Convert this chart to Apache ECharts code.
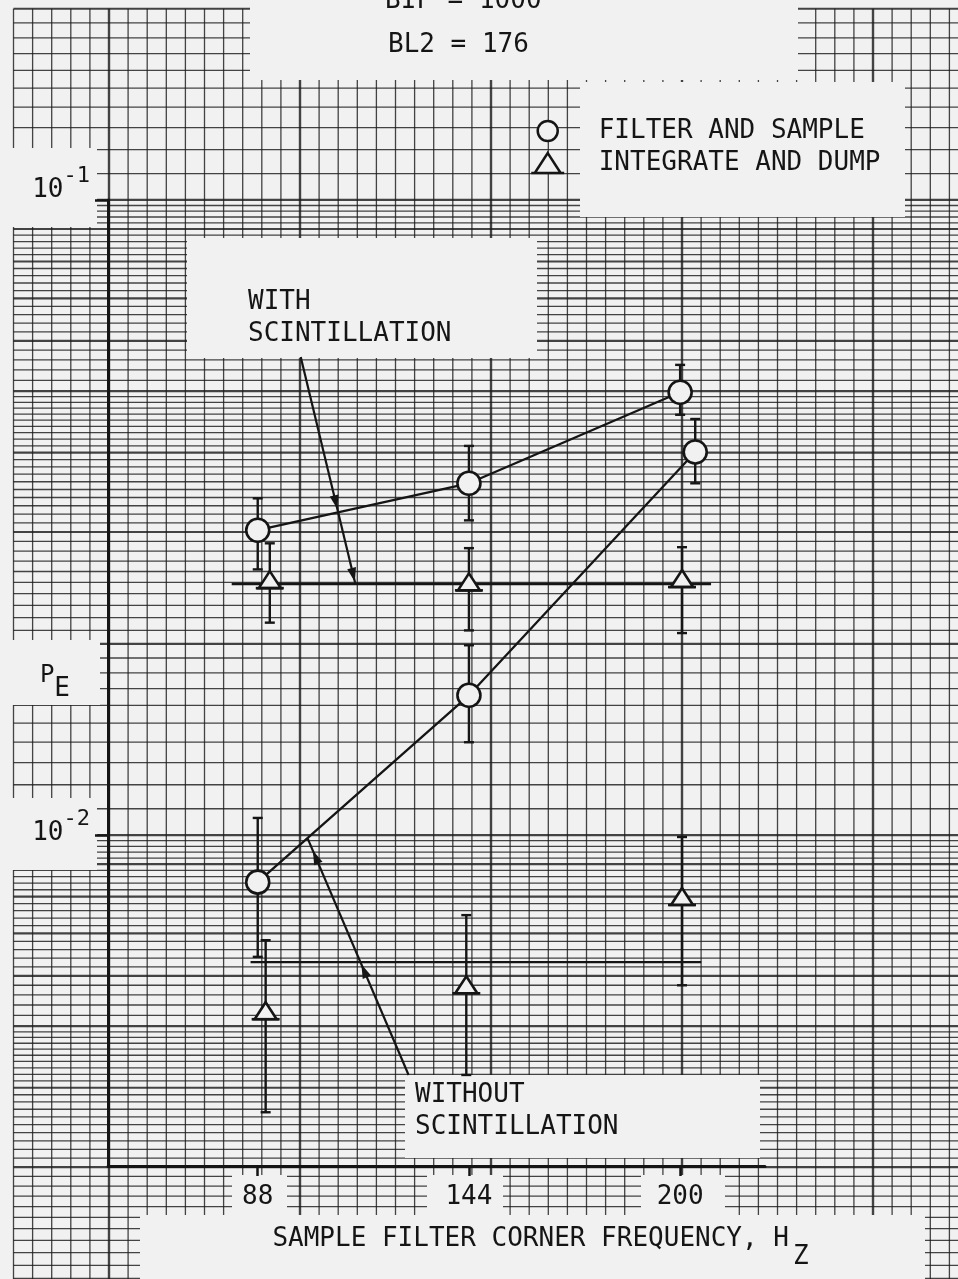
<!DOCTYPE html>
<html>
<head>
<meta charset="utf-8">
<title>Probability of error vs sample filter corner frequency</title>
<script src="https://cdn.jsdelivr.net/npm/echarts@6/dist/echarts.min.js"></script>
<style>
  html, body { margin: 0; padding: 0; background: #f1f1f1; }
  #chart { width: 958px; height: 1279px; }
</style>
</head>
<body>
<div id="chart"></div>
<script>
// ---------------- data ----------------
// Sample filter corner frequencies (Hz)
const frequencies = [88, 144, 200];
const xTickValues = [88, 144, 200];
const yTickValues = [0.01, 0.1];

// Filter and sample (circles): value, upper and lower error bounds
const fsWith        = [0.0302, 0.0358, 0.0498];
const fsWithHigh    = [0.0339, 0.0410, 0.0550];
const fsWithLow     = [0.0262, 0.0313, 0.0459];
const fsWithout     = [0.00843, 0.0166, 0.0401];
const fsWithoutHigh = [0.01064, 0.0199, 0.0452];
const fsWithoutLow  = [0.00643, 0.0140, 0.0358];

// Integrate and dump (triangles): value, upper and lower error bounds
const idWith        = [0.0252, 0.0250, 0.0253];
const idWithHigh    = [0.0288, 0.0283, 0.0284];
const idWithLow     = [0.0216, 0.0210, 0.0208];
const idWithout     = [0.00528, 0.00580, 0.00799];
const idWithoutHigh = [0.00683, 0.00748, 0.00993];
const idWithoutLow  = [0.00366, 0.00419, 0.00580];

// Integrate-and-dump reference levels and the frequency span they are ruled over
const levelWith = 0.02485;
const levelWithout = 0.00631;
const levelWithSpan = [81.1, 208.2];
const levelWithoutSpan = [86.1, 205.6];

// ---------------- styling ----------------
const PAPER = '#f1f1f1';
const INK = '#151515';
const RULE = 'rgba(28,28,28,0.82)';
const MONO = '"DejaVu Sans Mono", "Liberation Mono", monospace';
const FONT = '26px ' + MONO;

// Small sideways nudges (Hz) so symbols at the same frequency do not sit on each other
const NUDGE = {
  fsWith:    [0, 0, 0],
  fsWithout: [0, 0, 4.0],
  idWith:    [3.2, 0, 0.5],
  idWithout: [2.1, -0.7, 0.5]
};

// Graph-paper coordinate frame covering the whole page
const PAPER_X = [-15.707, 34.450];     // ruled divisions
const PAPER_Y = [0.0019995, 0.20646];  // log ruling, same scale as the plot
const PAPER_TOP = 0.2;

function paperRows() {
  const rows = [];
  [0.001, 0.01, 0.1].forEach(function (d) {
    const marks = [];
    for (let m = 10; m < 50; m += 1) marks.push(m / 10);
    for (let m = 50; m < 100; m += 2) marks.push(m / 10);
    marks.forEach(function (m) {
      const v = d * m;
      if (v >= PAPER_Y[0] * 0.999 && v <= PAPER_TOP * 1.0001) {
        rows.push([PAPER_X[0], v, Number.isInteger(m) ? 1 : 0]);
      }
    });
  });
  return rows;
}
function paperCols() {
  const cols = [];
  for (let k = -15; k <= 34; k++) cols.push([k, PAPER_TOP, k % 10 === 0 ? 1 : 0]);
  return cols;
}

function points(values, low, high, nudge, kind) {
  return frequencies.map(function (f, i) {
    return [f + nudge[i], values[i], low[i], high[i], kind];
  });
}
function pathOf(values, nudge) {
  return frequencies.map(function (f, i) { return [f + nudge[i], values[i]]; });
}

function renderRow(params, api) {
  const cs = params.coordSys;
  const p = api.coord([-15, api.value(1)]);
  const heavy = api.value(2) === 1;
  return {
    type: 'line',
    shape: { x1: p[0], y1: p[1], x2: cs.x + cs.width, y2: p[1] },
    style: { stroke: RULE, lineWidth: heavy ? 2.2 : 1.3 }
  };
}
function renderCol(params, api) {
  const cs = params.coordSys;
  const p = api.coord([api.value(0), PAPER_TOP]);
  const heavy = api.value(2) === 1;
  return {
    type: 'line',
    shape: { x1: p[0], y1: p[1], x2: p[0], y2: cs.y + cs.height },
    style: { stroke: RULE, lineWidth: heavy ? 2.4 : 1.3 }
  };
}

function renderMarker(params, api) {
  const x = api.value(0);
  const c = api.coord([x, api.value(1)]);
  const lo = api.coord([x, api.value(2)]);
  const hi = api.coord([x, api.value(3)]);
  const kind = api.value(4);
  const cap = 5;
  const bar = { stroke: INK, lineWidth: 2.4 };
  const children = [
    { type: 'line', shape: { x1: c[0], y1: hi[1], x2: c[0], y2: lo[1] }, style: bar },
    { type: 'line', shape: { x1: c[0] - cap, y1: hi[1], x2: c[0] + cap, y2: hi[1] }, style: bar },
    { type: 'line', shape: { x1: c[0] - cap, y1: lo[1], x2: c[0] + cap, y2: lo[1] }, style: bar }
  ];
  if (kind === 0) {
    children.push({ type: 'circle', shape: { cx: c[0], cy: c[1], r: 11.5 },
      style: { fill: PAPER, stroke: INK, lineWidth: 2.6 } });
  } else {
    children.push({ type: 'polygon',
      shape: { points: [[c[0], c[1] - 9], [c[0] + 11, c[1] + 8], [c[0] - 11, c[1] + 8]] },
      style: { fill: PAPER, stroke: INK, lineWidth: 2.6 } });
    children.push({ type: 'line', shape: { x1: c[0] - 14, y1: c[1] + 8, x2: c[0] + 14, y2: c[1] + 8 },
      style: { stroke: INK, lineWidth: 2.6 } });
  }
  return { type: 'group', children: children };
}

const chart = echarts.init(document.getElementById('chart'), null, { renderer: 'canvas' });

const option = {
  backgroundColor: PAPER,
  animation: false,
  grid: [
    { left: 108, right: 193, top: 200, bottom: 113, containLabel: false, outerBoundsMode: 'none' },
    { left: 0, right: 0, top: 0, bottom: 0, containLabel: false, outerBoundsMode: 'none' }
  ],
  legend: {
    orient: 'vertical',
    left: 530,
    top: 118,
    itemWidth: 92,
    itemHeight: 20,
    itemGap: 6,
    padding: 0,
    selectedMode: false,
    z: 9,
    textStyle: { fontFamily: MONO, fontSize: 26, color: INK },
    itemStyle: { color: PAPER, borderColor: INK, borderWidth: 2.5 },
    data: [
      { name: 'FILTER AND SAMPLE', icon: 'circle' },
      { name: 'INTEGRATE AND DUMP', icon: 'path://M3,17L14,0L25,17ZM0,17L28,17' }
    ]
  },
  xAxis: [
    {
      type: 'value', gridIndex: 0, min: 48.3, max: 222.5, z: 5,
      axisLine: { show: true, onZero: false, lineStyle: { color: INK, width: 3 } },
      axisTick: { show: true, customValues: xTickValues, length: 10, lineStyle: { color: INK, width: 2.5 } },
      axisLabel: { customValues: xTickValues, margin: 18, fontFamily: MONO, fontSize: 26, color: INK },
      splitLine: { show: false },
      name: '{t|SAMPLE FILTER CORNER FREQUENCY, H}{z|Z}',
      nameLocation: 'middle',
      nameGap: 60,
      nameMoveOverlap: false,
      nameTextStyle: {
        padding: [0, 0, 0, 208],
        rich: {
          t: { fontFamily: MONO, fontSize: 26, color: INK, verticalAlign: 'top' },
          z: { fontFamily: MONO, fontSize: 26, color: INK, verticalAlign: 'bottom', padding: [18, 0, 0, 4] }
        }
      }
    },
    { type: 'value', gridIndex: 1, min: PAPER_X[0], max: PAPER_X[1], show: false }
  ],
  yAxis: [
    {
      type: 'log', gridIndex: 0, min: 0.003012, max: 0.1, z: 5,
      axisLine: { show: true, lineStyle: { color: INK, width: 3 } },
      axisTick: { show: true, customValues: yTickValues, length: 13, lineStyle: { color: INK, width: 2.5 } },
      axisLabel: {
        customValues: yTickValues, margin: 18,
        padding: [0, 0, 16, 0],
        formatter: function (v) {
          const e = Math.round(Math.log10(v));
          // the upper decade label sits a little higher above its tick
          return e === -1 ? '{bb|10}{s|' + e + '}' : '{b|10}{s|' + e + '}';
        },
        rich: {
          b:  { fontFamily: MONO, fontSize: 26, color: INK, verticalAlign: 'bottom', padding: [12, 0, 0, 0] },
          bb: { fontFamily: MONO, fontSize: 26, color: INK, verticalAlign: 'bottom', padding: [12, 0, 16, 0] },
          s:  { fontFamily: MONO, fontSize: 22, color: INK, verticalAlign: 'top' }
        }
      },
      splitLine: { show: false },
      minorTick: { show: false },
      name: '{p|P}{e|E}',
      nameLocation: 'middle',
      nameRotate: 0,
      nameGap: 38,
      nameMoveOverlap: false,
      nameTextStyle: {
        align: 'right',
        verticalAlign: 'middle',
        rich: {
          p: { fontFamily: MONO, fontSize: 24, color: INK, verticalAlign: 'top' },
          e: { fontFamily: MONO, fontSize: 26, color: INK, verticalAlign: 'bottom', padding: [12, 0, 0, 0] }
        }
      }
    },
    { type: 'log', gridIndex: 1, min: PAPER_Y[0], max: PAPER_Y[1], show: false }
  ],
  series: [
    { type: 'custom', name: 'paper rows', xAxisIndex: 1, yAxisIndex: 1, z: 1, silent: true, clip: false,
      encode: { x: 0, y: 1 }, data: paperRows(), renderItem: renderRow },
    { type: 'custom', name: 'paper columns', xAxisIndex: 1, yAxisIndex: 1, z: 1, silent: true, clip: false,
      encode: { x: 0, y: 1 }, data: paperCols(), renderItem: renderCol },

    { type: 'line', name: 'level with scintillation', xAxisIndex: 0, yAxisIndex: 0, z: 6, symbol: 'none',
      lineStyle: { color: INK, width: 2.3 },
      data: [[levelWithSpan[0], levelWith], [levelWithSpan[1], levelWith]] },
    { type: 'line', name: 'level without scintillation', xAxisIndex: 0, yAxisIndex: 0, z: 6, symbol: 'none',
      lineStyle: { color: INK, width: 2.3 },
      data: [[levelWithoutSpan[0], levelWithout], [levelWithoutSpan[1], levelWithout]] },
    { type: 'line', name: 'filter and sample, with scintillation', xAxisIndex: 0, yAxisIndex: 0, z: 6, symbol: 'none',
      lineStyle: { color: INK, width: 2.3 }, data: pathOf(fsWith, NUDGE.fsWith) },
    { type: 'line', name: 'filter and sample, without scintillation', xAxisIndex: 0, yAxisIndex: 0, z: 6, symbol: 'none',
      lineStyle: { color: INK, width: 2.3 }, data: pathOf(fsWithout, NUDGE.fsWithout) },

    { type: 'custom', name: 'FILTER AND SAMPLE', xAxisIndex: 0, yAxisIndex: 0, z: 7, clip: false,
      itemStyle: { color: PAPER, borderColor: INK, borderWidth: 2.5 },
      encode: { x: 0, y: 1 },
      data: points(fsWith, fsWithLow, fsWithHigh, NUDGE.fsWith, 0)
        .concat(points(fsWithout, fsWithoutLow, fsWithoutHigh, NUDGE.fsWithout, 0)),
      renderItem: renderMarker },
    { type: 'custom', name: 'INTEGRATE AND DUMP', xAxisIndex: 0, yAxisIndex: 0, z: 7, clip: false,
      itemStyle: { color: PAPER, borderColor: INK, borderWidth: 2.5 },
      encode: { x: 0, y: 1 },
      data: points(idWith, idWithLow, idWithHigh, NUDGE.idWith, 1)
        .concat(points(idWithout, idWithoutLow, idWithoutHigh, NUDGE.idWithout, 1)),
      renderItem: renderMarker }
  ]
};

chart.setOption(option);

// ---------------- labels, blank label panels and callout arrows ----------------
function blank(x, y, w, h) {
  return { type: 'rect', z: 3, silent: true, shape: { x: x, y: y, width: w, height: h }, style: { fill: PAPER } };
}
function label(text, x, y) {
  return { type: 'text', z: 8, silent: true, x: x, y: y,
    style: { text: text, font: FONT, fill: INK, align: 'left', verticalAlign: 'middle' } };
}

// Callouts defined in data space: from the caption to the curve they name
const callouts = [
  { from: [99.4, 0.0566], to: [113.9, levelWith], heads: [0.64, 0.96] },
  { from: [128.0, 0.00419], to: [101.2, 0.00989], heads: [0.44, 0.92] }
];

function calloutGraphics() {
  const out = [];
  callouts.forEach(function (c) {
    const a = chart.convertToPixel({ gridIndex: 0 }, c.from);
    const b = chart.convertToPixel({ gridIndex: 0 }, c.to);
    out.push({ type: 'line', z: 7, silent: true,
      shape: { x1: a[0], y1: a[1], x2: b[0], y2: b[1] }, style: { stroke: INK, lineWidth: 2.2 } });
    const dx = b[0] - a[0], dy = b[1] - a[1];
    const len = Math.sqrt(dx * dx + dy * dy);
    const ux = dx / len, uy = dy / len, nx = -uy, ny = ux;
    c.heads.forEach(function (t) {
      const px = a[0] + dx * t, py = a[1] + dy * t;
      out.push({ type: 'polygon', z: 7, silent: true,
        shape: { points: [
          [px + ux * 7, py + uy * 7],
          [px - ux * 7 + nx * 4.5, py - uy * 7 + ny * 4.5],
          [px - ux * 7 - nx * 4.5, py - uy * 7 - ny * 4.5]
        ] },
        style: { fill: INK } });
    });
  });
  return out;
}

const graphics = [
  blank(250, 0, 548, 80),      // heading
  blank(580, 82, 325, 135),    // key
  blank(0, 148, 97, 79),       // 10^-1
  blank(187, 238, 350, 120),   // with scintillation
  blank(0, 640, 100, 65),      // P_E
  blank(0, 798, 97, 72),       // 10^-2
  blank(405, 1075, 355, 83),   // without scintillation
  blank(232, 1175, 55, 40),    // 88
  blank(427, 1175, 76, 40),    // 144
  blank(641, 1175, 84, 40),    // 200
  blank(140, 1215, 785, 64),   // axis title
  label('BIF = 1000', 385, 1),
  label('BL2 = 176', 388, 45),
  label('WITH', 248, 302),
  label('SCINTILLATION', 248, 334),
  label('WITHOUT', 415, 1095),
  label('SCINTILLATION', 415, 1127)
].concat(calloutGraphics());

chart.setOption({ graphic: graphics });
</script>
</body>
</html>
